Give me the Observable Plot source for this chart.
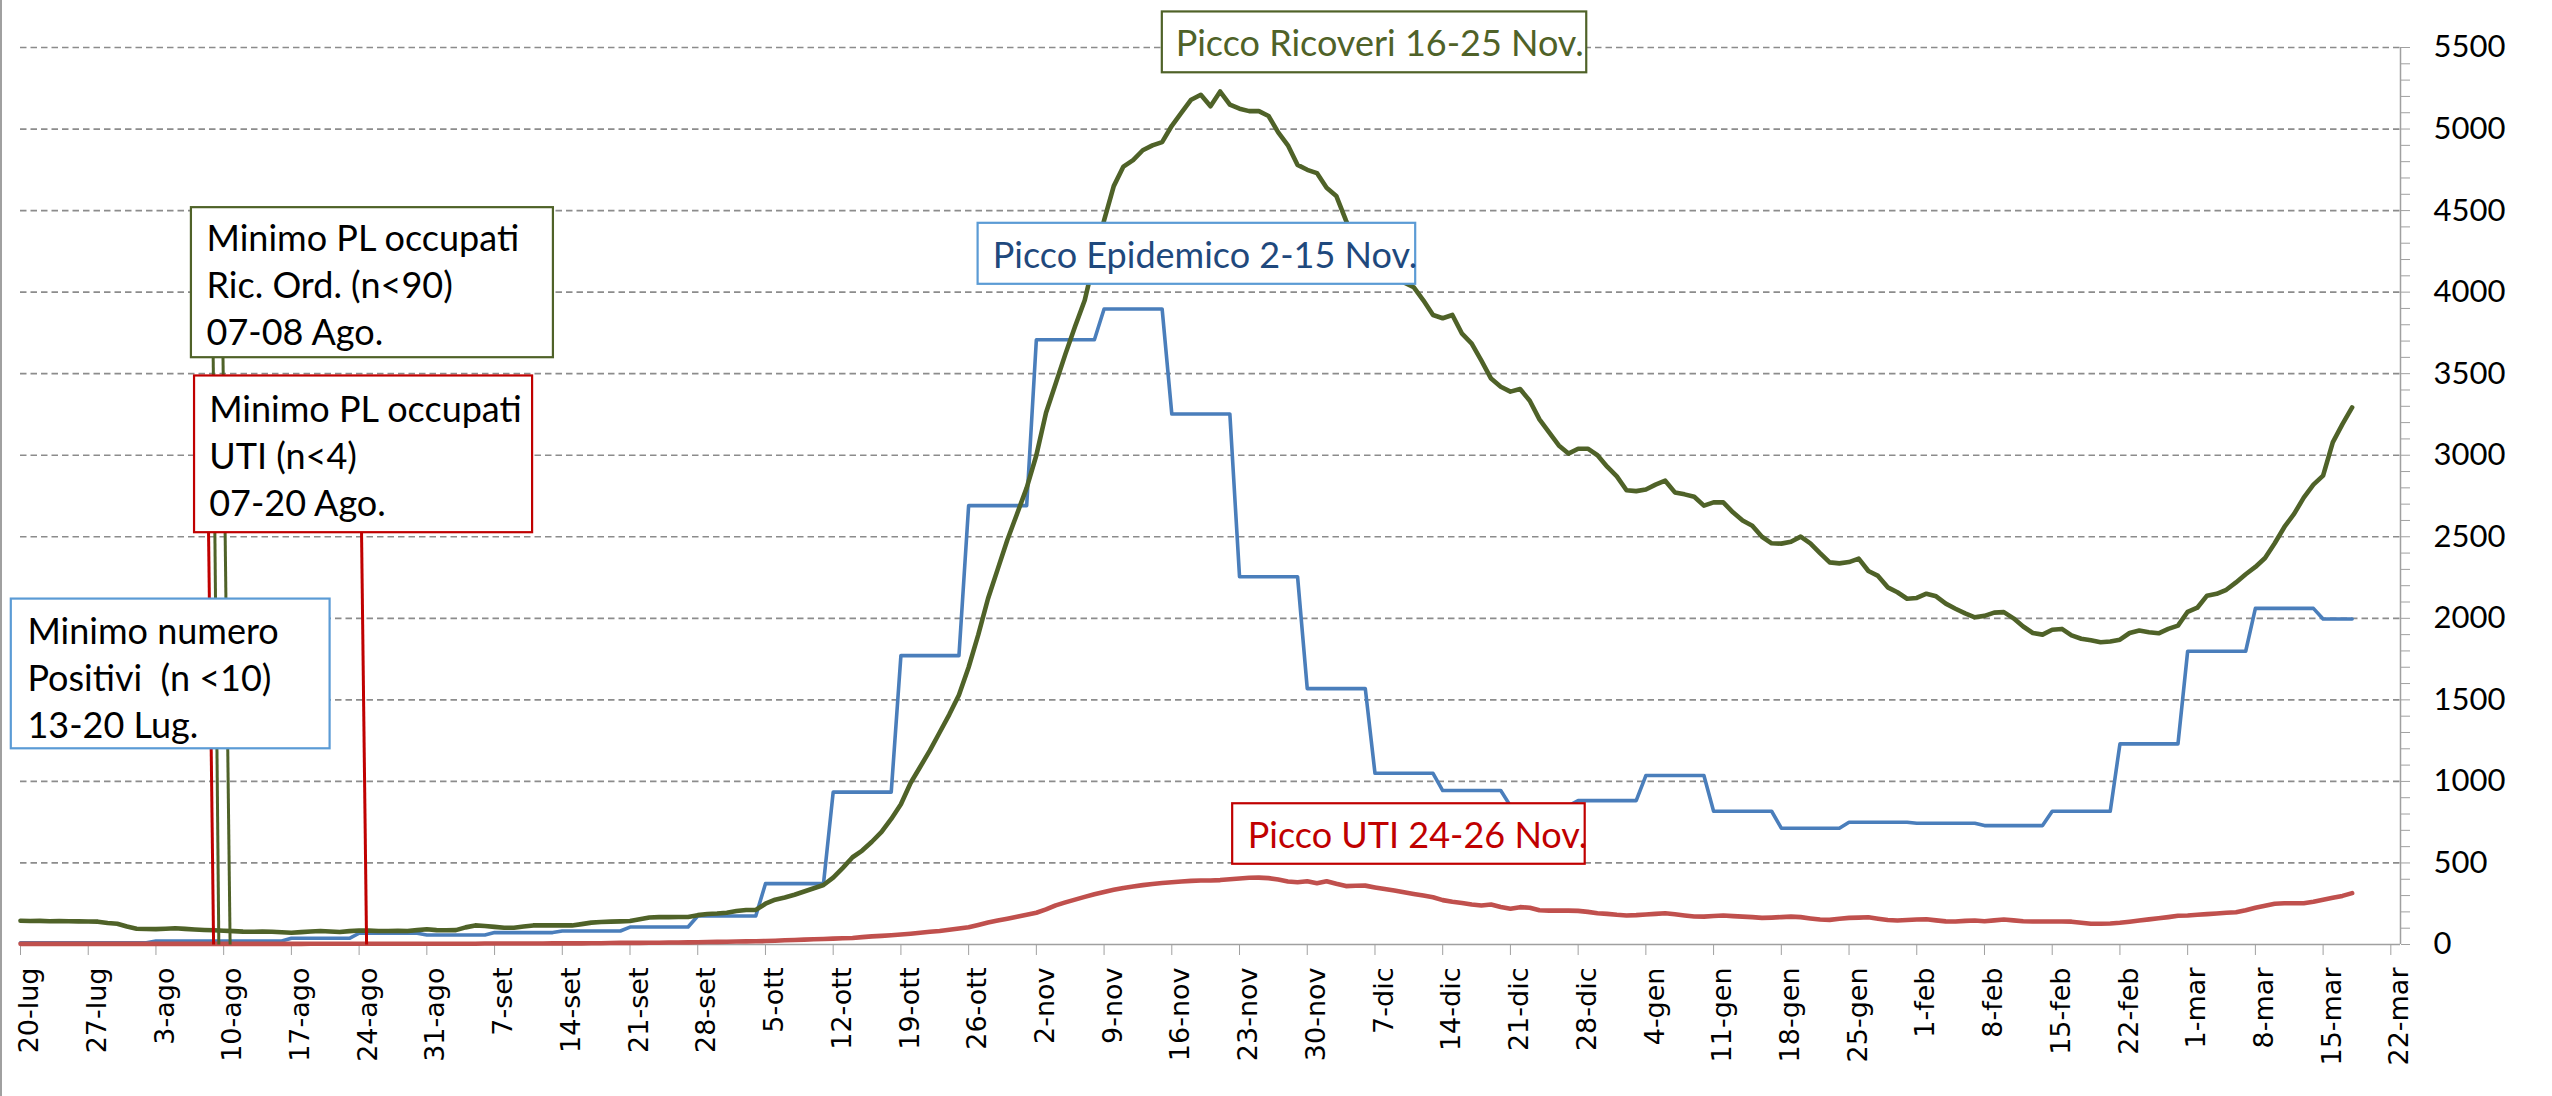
<!DOCTYPE html>
<html>
<head>
<meta charset="utf-8">
<script src="https://cdn.jsdelivr.net/npm/d3@7"></script>
<script src="https://cdn.jsdelivr.net/npm/@observablehq/plot@0.6"></script>
<style>
html, body { margin: 0; padding: 0; background: #fff; }
#wrap { position: relative; width: 2552px; height: 1096px; overflow: hidden; background: #fff; }
#border { position: absolute; left: 0; top: 0; width: 2px; height: 1096px; background: #a0a0a0; }
svg text { white-space: pre; }
</style>
</head>
<body>
<div id="wrap"><div id="border"></div></div>
<script>
// ---------- DATA ----------
const startDate = "2020-07-20T00:00Z";
const endDate = "2021-03-23T00:00Z";

// Ricoveri ordinari (posti letto occupati), daily from 20-lug-2020
const ricoveriOrdinari = [
  146,144,145,143,144,143,142,
  141,140,132,127,110,97,95,
  94,97,100,96,92,89,87,
  84,82,79,78,79,78,75,
  72,76,80,83,80,77,82,
  86,85,83,83,84,83,88,
  93,88,87,88,105,117,113,
  108,103,103,110,117,118,117,
  117,117,125,134,138,140,142,
  144,155,166,168,168,169,169,
  180,187,190,195,205,212,212,
  250,275,288,305,325,345,365,
  410,470,535,576,630,690,770,
  860,990,1090,1190,1300,1410,1530,
  1700,1900,2120,2300,2480,2640,2800,
  3000,3260,3440,3620,3790,3950,4200,
  4440,4650,4770,4810,4870,4900,4920,
  5020,5100,5180,5210,5140,5230,5150,
  5125,5110,5110,5080,4980,4900,4780,
  4750,4730,4640,4590,4440,4300,4230,
  4170,4130,4090,4060,4030,3950,3860,
  3840,3860,3745,3684,3580,3470,3420,
  3390,3406,3334,3220,3140,3060,3010,
  3040,3040,3000,2930,2870,2785,2780,
  2790,2820,2844,2772,2760,2745,2691,
  2711,2711,2650,2600,2568,2500,2460,
  2458,2470,2501,2460,2400,2343,2337,
  2345,2366,2290,2260,2190,2160,2120,
  2125,2151,2135,2090,2059,2030,2006,
  2015,2035,2038,2000,1950,1910,1900,
  1930,1935,1895,1875,1865,1853,1858,
  1869,1910,1925,1915,1908,1935,1955,
  2040,2065,2139,2150,2175,2220,2270,
  2315,2370,2460,2560,2640,2740,2820,
  2875,3079,3191,3293
];

// Terapia intensiva (UTI), daily from 20-lug-2020
const terapiaIntensiva = [
  4,4,4,4,4,4,4,
  4,4,4,4,4,4,4,
  4,4,4,4,4,4,4,
  4,4,4,4,4,4,4,
  4,4,5,5,5,5,5,
  5,5,5,5,5,5,5,
  5,5,5,5,5,5,6,
  6,6,6,6,6,6,7,
  7,7,7,8,8,9,10,
  10,10,11,11,12,12,13,
  14,15,16,17,18,19,20,
  21,23,26,28,30,32,34,
  36,38,40,45,50,53,57,
  61,66,72,78,83,90,98,
  106,120,135,147,158,170,182,
  195,215,240,258,275,292,308,
  322,335,347,356,364,371,377,
  382,386,390,392,392,395,400,
  405,409,410,407,398,386,382,
  388,376,388,372,358,360,361,
  350,340,331,320,310,300,290,
  272,262,255,245,239,245,230,
  219,229,225,210,208,208,208,
  206,200,192,188,182,178,180,
  184,188,192,185,178,172,171,
  175,178,174,171,168,163,165,
  168,171,168,160,153,151,158,
  163,165,167,158,150,147,150,
  153,155,148,142,141,145,147,
  143,148,153,148,143,141,141,
  141,141,140,133,127,127,129,
  133,140,147,154,161,168,176,
  178,182,186,190,195,198,210,
  225,238,250,253,253,253,262,
  274,286,298,315
];

// Nuovi positivi settimanali (one value per week, Monday to Sunday)
const positiviSettimanali = [
  11,11,21,21,38,69,58,73,83,107,175,373,934,1771,2691,3708,3897,3253,
  2255,1569,1050,944,850,882,1036,817,713,750,743,729,817,1230,1798,2061,1996
];

const xTickDates = [
  "2020-07-20","2020-07-27","2020-08-03","2020-08-10","2020-08-17","2020-08-24","2020-08-31",
  "2020-09-07","2020-09-14","2020-09-21","2020-09-28","2020-10-05","2020-10-12","2020-10-19",
  "2020-10-26","2020-11-02","2020-11-09","2020-11-16","2020-11-23","2020-11-30","2020-12-07",
  "2020-12-14","2020-12-21","2020-12-28","2021-01-04","2021-01-11","2021-01-18","2021-01-25",
  "2021-02-01","2021-02-08","2021-02-15","2021-02-22","2021-03-01","2021-03-08","2021-03-15","2021-03-22"
];
const xTickLabels = [
  "20-lug","27-lug","3-ago","10-ago","17-ago","24-ago","31-ago",
  "7-set","14-set","21-set","28-set","5-ott","12-ott","19-ott",
  "26-ott","2-nov","9-nov","16-nov","23-nov","30-nov","7-dic",
  "14-dic","21-dic","28-dic","4-gen","11-gen","18-gen","25-gen",
  "1-feb","8-feb","15-feb","22-feb","1-mar","8-mar","15-mar","22-mar"
];
const yTickValues = [0,500,1000,1500,2000,2500,3000,3500,4000,4500,5000,5500];
const yMinorStep = 100;

// Annotation boxes
const annotationKeys = ["ricOrd","uti","positivi","piccoRic","piccoEpi","piccoUti"];
const annotationTexts = [
  "Minimo PL occupati\nRic. Ord. (n<90)\n07-08 Ago.",
  "Minimo PL occupati\nUTI (n<4)\n07-20 Ago.",
  "Minimo numero\nPositivi  (n <10)\n13-20 Lug.",
  "Picco Ricoveri 16-25 Nov.",
  "Picco Epidemico 2-15 Nov.",
  "Picco UTI 24-26 Nov."
];
const boxStart = ["2020-08-06T16:00Z","2020-08-06T23:45Z","2020-07-19T01:10Z","2020-11-15T00:30Z","2020-10-26T23:30Z","2020-11-22T07:00Z"];
const boxEnd   = ["2020-09-13T02:00Z","2020-09-10T22:20Z","2020-08-21T00:00Z","2020-12-28T21:20Z","2020-12-11T05:00Z","2020-12-28T17:30Z"];
const boxLow   = [3598, 2525, 1200, 5345, 4048, 492];
const boxHigh  = [4518, 3486, 2118, 5718, 4422, 863];
const textStart    = ["2020-08-08T05:30Z","2020-08-08T12:00Z","2020-07-20T17:15Z","2020-11-16T09:30Z","2020-10-28T12:00Z","2020-11-23T20:30Z"];
const textBaseline = [3676, 2627, 1268, 5448, 4150, 593];

// Leader lines from the "minimo" boxes down to the axis
const leaderKeys = ["uti","ricOrd","ricOrd","uti"];
const leaderTopDate = ["2020-08-08T10:30Z","2020-08-08T22:00Z","2020-08-09T22:20Z","2020-08-24T06:00Z"];
const leaderTopValue = [2525, 3598, 3598, 2525];
const leaderBottomDate = ["2020-08-08T23:00Z","2020-08-09T12:00Z","2020-08-10T16:00Z","2020-08-24T18:30Z"];
const leaderBottomValue = [0, 0, 0, 0];

// ---------- STYLES ----------
const annotationStyle = {
  ricOrd:   {stroke: "#4f6228", text: "#000000"},
  uti:      {stroke: "#c00000", text: "#000000"},
  positivi: {stroke: "#5b9bd5", text: "#000000"},
  piccoRic: {stroke: "#4f6228", text: "#4f6228"},
  piccoEpi: {stroke: "#5b9bd5", text: "#1f497d"},
  piccoUti: {stroke: "#c00000", text: "#c00000"}
};

// ---------- BUILD ----------
const start = new Date(startDate);
const end = new Date(endDate);
const dayDate = i => d3.utcDay.offset(start, i);
const green = ricoveriOrdinari.map((v, i) => ({date: dayDate(i), value: v}));
const red = terapiaIntensiva.map((v, i) => ({date: dayDate(i), value: v}));
const blue = ricoveriOrdinari.map((_, i) => ({date: dayDate(i), value: positiviSettimanali[Math.floor(i / 7)]}));

const xTicks = xTickDates.map(s => new Date(s + "T00:00Z"));
const labelByTime = new Map(xTicks.map((d, i) => [+d, xTickLabels[i]]));
const yMinor = d3.range(0, yTickValues[yTickValues.length - 1] + 1, yMinorStep);
const gridValues = yTickValues.filter(v => v > 0);

const boxMarks = annotationKeys.flatMap((key, i) => {
  const st = annotationStyle[key];
  return [
    Plot.rect([i], {x1: j => new Date(boxStart[j]), x2: j => new Date(boxEnd[j]), y1: j => boxLow[j], y2: j => boxHigh[j],
      fill: "white", stroke: st.stroke, strokeWidth: 2.2}),
    Plot.text([i], {x: j => new Date(textStart[j]), y: j => textBaseline[j], text: j => annotationTexts[j],
      textAnchor: "start", lineAnchor: "bottom", lineHeight: 1.305, fontSize: 36, fontFamily: "Lato", fill: st.text})
  ];
});
const leaderMarks = leaderKeys.map((key, i) =>
  Plot.link([i], {x1: j => new Date(leaderTopDate[j]), y1: j => leaderTopValue[j],
    x2: j => new Date(leaderBottomDate[j]), y2: j => leaderBottomValue[j],
    stroke: annotationStyle[key].stroke, strokeWidth: 3})
);

const chart = Plot.plot({
  width: 2552,
  height: 1096,
  marginLeft: 20,
  marginRight: 152,
  marginTop: 47,
  marginBottom: 152,
  style: {background: "transparent", overflow: "visible", fontFamily: "Lato"},
  x: {type: "utc", domain: [start, end]},
  y: {domain: [0, 5500]},
  marks: [
    Plot.ruleY(gridValues, {stroke: "#8c8c8c", strokeWidth: 1.7, strokeDasharray: "6.5,4"}),
    Plot.ruleY([0], {stroke: "#a0a0a0", strokeWidth: 1.5}),
    Plot.ruleX([end], {y1: 0, y2: 5500, stroke: "#a0a0a0", strokeWidth: 1.5}),
    Plot.axisX({ticks: xTicks, tickSize: 11, tickFormat: () => "", stroke: "#a0a0a0", label: null}),
    Plot.axisX({ticks: xTicks, tickSize: 0, tickPadding: 23, tickRotate: -90, dx: 9,
      tickFormat: d => labelByTime.get(+d) ?? "", fontSize: 27, fontFamily: "DejaVu Sans", fill: "#000", label: null}),
    Plot.axisY({anchor: "right", ticks: yMinor, tickSize: 9, tickPadding: 24,
      tickFormat: d => (d % 500 === 0 ? String(d) : ""), fontSize: 31, fontFamily: "Lato",
      stroke: "#a0a0a0", fill: "#000", label: null}),
    Plot.line(blue, {x: "date", y: "value", stroke: "#4a7ebb", strokeWidth: 3.6, strokeLinejoin: "round"}),
    Plot.line(red, {x: "date", y: "value", stroke: "#c0504d", strokeWidth: 4.6, strokeLinejoin: "round"}),
    Plot.line(green, {x: "date", y: "value", stroke: "#4f6228", strokeWidth: 4.6, strokeLinejoin: "round"}),
    ...leaderMarks,
    ...boxMarks
  ]
});
document.getElementById("wrap").appendChild(chart);
</script>
</body>
</html>
